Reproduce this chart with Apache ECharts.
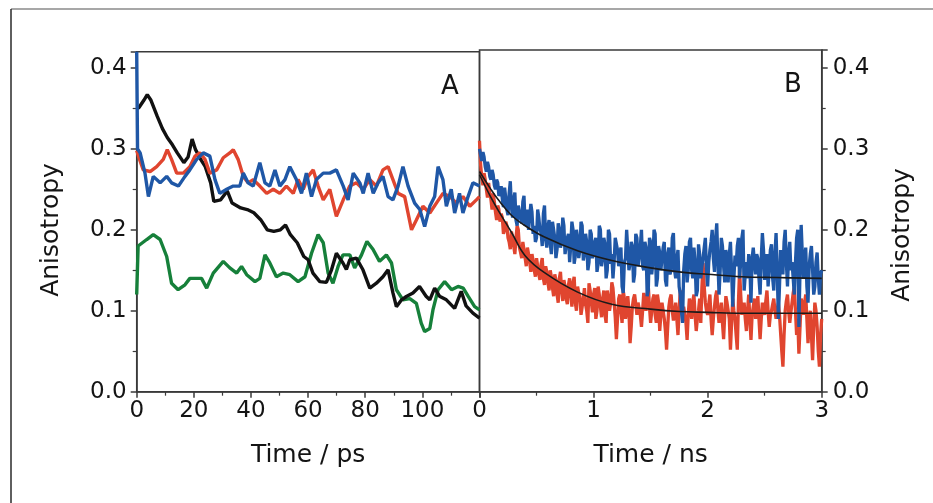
<!DOCTYPE html>
<html><head><meta charset="utf-8">
<script src="https://cdn.jsdelivr.net/npm/echarts@6/dist/echarts.min.js"></script>
<style>html,body{margin:0;padding:0;background:#fff}#c{width:933px;height:503px}</style>
</head><body><div id="c"></div>
<script>
// ---------- Panel A (Time / ps) ----------
const aBlackT = [0,0.8,2.5,3.7,5,7.2,9,10.7,12.5,14.2,16.5,18,19.4,20.6,22.4,24,25.9,27,29.4,31.7,33.4,36.4,38.7,41,43.4,45.7,48,50.3,52.1,53.8,56.2,58.5,60,61.7,64.1,66.4,68.2,69.9,72.2,73.4,74.6,76.9,79.2,81.6,83.9,86.2,88,89.7,90.9,92.6,94.4,96.7,99,101.3,102.6,104.3,106,108.4,111.3,113.6,115.3,117.7,120];
const aBlackV = [0.35,0.351,0.36,0.367,0.36,0.340,0.325,0.314,0.305,0.295,0.283,0.29,0.312,0.299,0.287,0.278,0.258,0.235,0.237,0.248,0.233,0.227,0.225,0.221,0.2125,0.200,0.198,0.200,0.206,0.194,0.184,0.167,0.163,0.1465,0.136,0.135,0.1506,0.171,0.159,0.151,0.163,0.165,0.1506,0.128,0.134,0.142,0.1506,0.122,0.105,0.113,0.1176,0.122,0.130,0.118,0.1135,0.128,0.118,0.1135,0.103,0.124,0.106,0.097,0.091];

const aGreenT = [0,0.5,3.5,5.8,8.2,10.5,12.2,14.5,16.9,18.6,20.9,22.7,24.5,26.8,30.3,32.6,35,36.7,38.5,41.4,43.1,44.9,46.6,48.9,51.3,53.6,56.5,58.9,61.2,63.5,65.3,67,68.7,70.5,72.2,74.6,76.3,78.7,80.6,82.7,85,87.4,89.2,90.9,93.2,95.6,97.9,99.6,100.8,102.6,103.7,105.5,107.8,110.2,112.5,114.3,116,118.3,120];
const aGreenV = [0.12,0.18,0.188,0.194,0.188,0.167,0.134,0.126,0.132,0.140,0.140,0.140,0.128,0.1465,0.161,0.153,0.1465,0.1547,0.1445,0.136,0.140,0.169,0.159,0.142,0.1465,0.1445,0.136,0.142,0.171,0.194,0.184,0.1465,0.134,0.1547,0.169,0.169,0.153,0.169,0.1856,0.176,0.161,0.169,0.159,0.126,0.1135,0.115,0.109,0.0846,0.0743,0.078,0.101,0.126,0.136,0.126,0.130,0.128,0.118,0.105,0.101];

const aRedT = [0,0.6,2.3,4.7,7,9.3,10.7,12.2,14,16.3,18.6,20.4,22.1,23.9,25.6,28,30.3,32.6,33.8,35.5,37.3,39,40.8,43.1,45.5,47.8,50.1,52.4,54.8,56.5,58.3,60,61.8,63.5,65.3,67.6,69.9,72.3,74.6,76.9,79.3,81.6,83.9,86.2,88,89.7,91.5,93.8,96.2,97.9,100.2,102.6,104.9,107.2,109.6,111.9,114.2,116.6,118.9,120];
const aRedV = [0.298,0.291,0.274,0.272,0.278,0.287,0.299,0.287,0.270,0.270,0.278,0.291,0.295,0.287,0.270,0.274,0.289,0.295,0.299,0.287,0.266,0.258,0.262,0.254,0.245,0.250,0.245,0.254,0.245,0.262,0.250,0.266,0.274,0.254,0.237,0.250,0.2166,0.237,0.254,0.258,0.250,0.262,0.254,0.274,0.278,0.262,0.245,0.241,0.200,0.212,0.229,0.2207,0.233,0.245,0.241,0.233,0.241,0.229,0.237,0.241];

const aBlueT = [0,0.3,1.2,2.9,4.1,5.8,8.2,10.5,12.2,14.6,16.9,18.6,21,23.3,25.6,27.4,29.1,31.5,33.8,36.1,37.3,39,40.8,43.1,44.9,46.6,48.4,50.1,51.9,53.6,55.9,57.7,59.4,61.2,62.9,65.3,67.6,69.9,72.3,74,75.8,78.1,79.3,81,82.8,84.5,86.2,88,89.7,91.5,93.2,95,97.3,99.1,100.8,102.6,104.3,105.5,107.2,108.4,110.1,111.3,113,114.2,116,117.7,120];
const aBlueV = [0.42,0.30,0.295,0.270,0.241,0.266,0.258,0.266,0.258,0.254,0.266,0.274,0.287,0.295,0.291,0.262,0.245,0.250,0.254,0.254,0.270,0.258,0.254,0.283,0.258,0.254,0.274,0.254,0.262,0.278,0.262,0.245,0.270,0.241,0.262,0.270,0.270,0.274,0.254,0.237,0.270,0.258,0.245,0.270,0.245,0.258,0.266,0.241,0.237,0.254,0.278,0.254,0.233,0.225,0.204,0.229,0.241,0.278,0.262,0.229,0.250,0.2207,0.245,0.2207,0.241,0.258,0.254];

// ---------- Panel B (Time / ns), sampled every 0.01 ns ----------
const bStep = 0.01;
const bBlueV = [
0.30,0.292,0.285,0.296,0.29,0.278,0.272,0.284,0.278,0.266,0.262,0.274,0.268,0.255,0.25,0.262,0.258,0.242,0.245,0.254,
0.238,0.228,0.252,0.24,0.225,0.218,0.245,0.26,0.228,0.215,0.238,0.246,0.212,0.205,0.23,0.222,0.215,0.208,0.235,0.242,
0.205,0.212,0.225,0.2,0.198,0.232,0.222,0.195,0.205,0.185,0.19,0.225,0.215,0.2,0.196,0.18,0.22,0.23,0.188,0.178,
0.205,0.212,0.183,0.17,0.21,0.2,0.19,0.165,0.176,0.208,0.2,0.178,0.185,0.215,0.205,0.17,0.172,0.19,0.195,0.16,
0.18,0.21,0.2,0.158,0.168,0.2,0.19,0.165,0.175,0.21,0.205,0.162,0.17,0.195,0.185,0.15,0.16,0.2,0.195,0.165,
0.172,0.185,0.19,0.148,0.158,0.205,0.2,0.155,0.165,0.19,0.182,0.14,0.15,0.2,0.195,0.158,0.17,0.14,0.16,0.19,
0.19,0.175,0.155,0.17,0.178,0.13,0.122,0.16,0.165,0.2,0.198,0.15,0.158,0.185,0.18,0.135,0.145,0.195,0.19,0.155,
0.165,0.18,0.2,0.155,0.15,0.185,0.178,0.118,0.125,0.19,0.185,0.145,0.16,0.2,0.195,0.13,0.14,0.18,0.172,0.15,
0.15,0.178,0.185,0.138,0.13,0.17,0.178,0.145,0.15,0.19,0.196,0.15,0.14,0.165,0.175,0.13,0.12,0.1,0.085,0.15,
0.17,0.18,0.135,0.15,0.185,0.19,0.15,0.14,0.178,0.16,0.118,0.125,0.182,0.17,0.14,0.155,0.165,0.178,0.19,0.15,
0.13,0.16,0.175,0.185,0.2,0.165,0.148,0.19,0.208,0.16,0.12,0.15,0.19,0.18,0.155,0.135,0.175,0.165,0.135,0.17,
0.185,0.15,0.105,0.14,0.168,0.155,0.18,0.19,0.14,0.16,0.19,0.2,0.125,0.145,0.16,0.14,0.17,0.155,0.11,0.165,
0.178,0.16,0.145,0.17,0.165,0.14,0.12,0.165,0.196,0.175,0.138,0.16,0.17,0.13,0.15,0.175,0.182,0.14,0.125,0.17,
0.196,0.15,0.09,0.13,0.175,0.16,0.145,0.185,0.2,0.16,0.13,0.17,0.185,0.15,0.16,0.14,0.12,0.16,0.19,0.2,
0.08,0.15,0.206,0.17,0.14,0.165,0.178,0.13,0.11,0.155,0.17,0.18,0.15,0.12,0.13,0.16,0.172,0.14,0.12,0.145,
0.15];
const bRedV = [
0.31,0.28,0.265,0.255,0.27,0.262,0.25,0.24,0.258,0.245,0.238,0.225,0.245,0.235,0.222,0.212,0.23,0.225,0.21,0.22,
0.215,0.195,0.2,0.21,0.205,0.19,0.185,0.176,0.198,0.19,0.18,0.17,0.19,0.205,0.2,0.178,0.172,0.165,0.185,0.175,
0.165,0.155,0.178,0.17,0.16,0.148,0.17,0.162,0.15,0.142,0.165,0.155,0.145,0.138,0.158,0.165,0.14,0.132,0.155,0.148,
0.135,0.125,0.15,0.142,0.128,0.118,0.145,0.138,0.12,0.11,0.14,0.148,0.125,0.112,0.138,0.13,0.115,0.108,0.132,0.14,
0.12,0.105,0.135,0.142,0.11,0.1,0.13,0.122,0.118,0.095,0.105,0.115,0.128,0.108,0.1,0.085,0.134,0.125,0.112,0.098,
0.12,0.128,0.09,0.1,0.13,0.12,0.105,0.092,0.115,0.125,0.095,0.085,0.125,0.115,0.1,0.11,0.135,0.128,0.11,0.092,
0.065,0.09,0.115,0.12,0.1,0.085,0.125,0.115,0.09,0.1,0.118,0.1,0.06,0.08,0.105,0.115,0.12,0.108,0.095,0.11,
0.11,0.095,0.08,0.1,0.122,0.11,0.1,0.118,0.13,0.105,0.085,0.1,0.115,0.12,0.095,0.085,0.12,0.11,0.075,0.095,
0.11,0.1,0.09,0.075,0.052,0.08,0.105,0.115,0.12,0.1,0.088,0.098,0.11,0.09,0.07,0.1,0.125,0.11,0.095,0.105,
0.105,0.085,0.064,0.095,0.115,0.105,0.09,0.112,0.12,0.095,0.075,0.09,0.1,0.115,0.085,0.13,0.159,0.13,0.11,0.1,
0.095,0.108,0.12,0.09,0.07,0.09,0.105,0.118,0.125,0.1,0.085,0.098,0.11,0.085,0.065,0.095,0.118,0.11,0.1,0.09,
0.052,0.085,0.115,0.1,0.09,0.07,0.052,0.11,0.15,0.12,0.095,0.105,0.11,0.09,0.075,0.1,0.12,0.09,0.064,0.095,
0.105,0.115,0.09,0.1,0.118,0.09,0.065,0.09,0.11,0.1,0.095,0.112,0.125,0.1,0.08,0.095,0.1,0.108,0.115,0.1,
0.09,0.1,0.11,0.095,0.072,0.05,0.031,0.07,0.1,0.112,0.12,0.1,0.085,0.098,0.11,0.122,0.13,0.1,0.07,0.09,
0.047,0.08,0.115,0.108,0.095,0.11,0.12,0.09,0.06,0.085,0.1,0.07,0.039,0.08,0.11,0.1,0.08,0.05,0.031,0.07,
0.09];
const bFitT = [0,0.1,0.16,0.28,0.4,0.57,0.86,1.16,1.5,1.75,2.0,2.3,2.6,3.0];
const bBlueFitV = [0.272,0.25,0.238,0.218,0.205,0.191,0.174,0.162,0.153,0.148,0.145,0.142,0.141,0.140];
const bRedFitV = [0.268,0.24,0.225,0.197,0.168,0.147,0.123,0.108,0.102,0.099,0.098,0.097,0.097,0.097];

// ---------- ticks / labels ----------
const aXTicks = [0,20,40,60,80,100];
const bXTicks = [0,1,2,3];
const yTicks = [0.0,0.1,0.2,0.3,0.4];
const xNameA = 'Time / ps', xNameB = 'Time / ns', yName = 'Anisotropy';

const pair = (ts, vs) => ts.map((t, i) => [t, vs[i]]);
const bPair = vs => vs.map((v, i) => [+(i * bStep).toFixed(2), v]);

const FONT = 'DejaVu Sans';
const TXT = '#141414';
const AX = '#3a3a3a';
const C = {black:'#111111', green:'#16803a', red:'#e0452f', blue:'#1f57a6'};

const yFmt = v => { const r = Math.round(v*10)/10; return (Math.abs(v-r) < 1e-6 && yTicks.some(t => Math.abs(t-r)<1e-6)) ? r.toFixed(1) : ''; };
function baseAxis(extra) {
  return Object.assign({
    type:'value', splitLine:{show:false},
    axisLine:{show:true, onZero:false, lineStyle:{color:AX, width:1.5}},
    axisTick:{show:true, inside:false, length:6, lineStyle:{color:AX, width:1.5}},
    minorTick:{show:true, splitNumber:2, length:4, lineStyle:{color:AX, width:1.2}},
    axisLabel:{color:TXT, fontFamily:FONT, fontSize:23, margin:8},
    nameTextStyle:{color:TXT, fontFamily:FONT, fontSize:25}
  }, extra);
}

const chart = echarts.init(document.getElementById('c'), null, {renderer:'canvas'});
const line = (name, data, color, w, xi, extra) => Object.assign({
  name, type:'line', data, xAxisIndex:xi, yAxisIndex:xi, showSymbol:false, symbol:'none',
  clip:true, animation:false, lineStyle:{color, width:w}
}, extra || {});

chart.setOption({
  animation:false,
  grid:[
    {left:136.7, right:453.5, top:51.7, bottom:111.3, show:true, borderColor:AX, borderWidth:1.5, backgroundColor:'transparent'},
    {left:479.5, right:111.3, top:50, bottom:111.3, show:true, borderColor:AX, borderWidth:1.5, backgroundColor:'transparent'}
  ],
  xAxis:[
    baseAxis({gridIndex:0, min:0, max:120, interval:20, name:xNameA, nameLocation:'middle', nameGap:51,
      axisLabel:{color:TXT, fontFamily:FONT, fontSize:23, margin:8, formatter: v => aXTicks.includes(v) ? String(v) : ''}}),
    baseAxis({gridIndex:1, min:0, max:3, interval:1, name:xNameB, nameLocation:'middle', nameGap:51,
      axisLabel:{color:TXT, fontFamily:FONT, fontSize:23, margin:8, formatter: v => bXTicks.includes(v) ? String(v) : ''}})
  ],
  yAxis:[
    baseAxis({gridIndex:0, min:0, max:0.42, interval:0.1, position:'left',
      axisLabel:{color:TXT, fontFamily:FONT, fontSize:23, margin:10, formatter:yFmt}}),
    baseAxis({gridIndex:1, min:0, max:0.4221, interval:0.1, position:'right',
      axisLabel:{color:TXT, fontFamily:FONT, fontSize:23, margin:11, formatter:yFmt}})
  ],
  series:[
    line('A green', pair(aGreenT, aGreenV), C.green, 3.4, 0),
    line('A black', pair(aBlackT, aBlackV), C.black, 3.4, 0),
    line('A red', pair(aRedT, aRedV), C.red, 3.4, 0),
    line('A blue', pair(aBlueT, aBlueV), C.blue, 3.4, 0),
    line('B red', bPair(bRedV), C.red, 3.3, 1),
    line('B blue', bPair(bBlueV), C.blue, 3.3, 1),
    line('B red fit', pair(bFitT, bRedFitV), '#1a1a1a', 1.6, 1, {smooth:0.4}),
    line('B blue fit', pair(bFitT, bBlueFitV), '#1a1a1a', 1.6, 1, {smooth:0.4})
  ],
  graphic:[
    {type:'line', shape:{x1:11, y1:9, x2:933, y2:9}, style:{stroke:'#8a8a8a', lineWidth:1.5}},
    {type:'line', shape:{x1:11, y1:9, x2:11, y2:503}, style:{stroke:'#2a2a2a', lineWidth:1.5}},
    {type:'text', x:51, y:230, rotation:Math.PI/2, style:{text:yName, fill:TXT, font:'25px "DejaVu Sans"', textAlign:'center', textVerticalAlign:'middle'}},
    {type:'text', x:902, y:235, rotation:Math.PI/2, style:{text:yName, fill:TXT, font:'25px "DejaVu Sans"', textAlign:'center', textVerticalAlign:'middle'}},
    {type:'text', left:441, top:74, style:{text:'A', fill:TXT, font:'26px "DejaVu Sans"'}},
    {type:'text', left:784, top:72, style:{text:'B', fill:TXT, font:'26px "DejaVu Sans"'}}
  ]
});
</script>
</body></html>
